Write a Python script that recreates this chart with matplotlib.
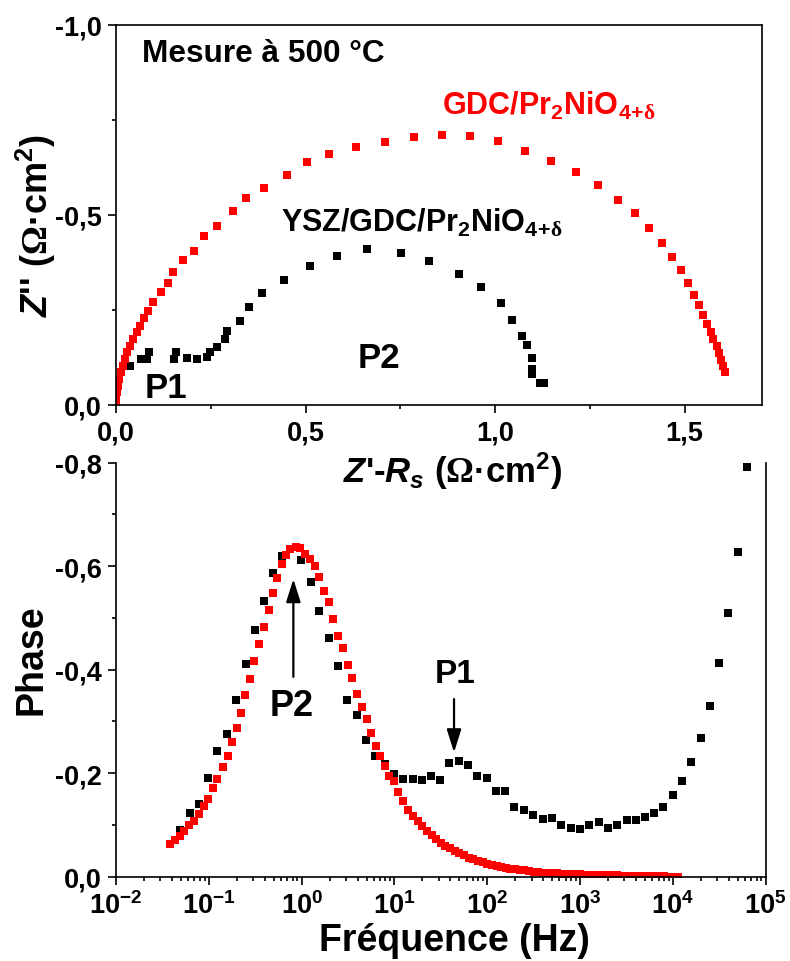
import matplotlib
matplotlib.use('Agg')
import matplotlib.pyplot as plt
import numpy as np
from matplotlib.ticker import FuncFormatter, MultipleLocator, FixedLocator, LogFormatterMathtext, NullFormatter

plt.rcParams['font.family'] = ['Liberation Sans', 'DejaVu Sans']
plt.rcParams['font.weight'] = 'bold'
plt.rcParams['mathtext.fontset'] = 'custom'
plt.rcParams['mathtext.rm'] = 'Liberation Serif'
plt.rcParams['mathtext.it'] = 'Liberation Sans:italic:bold'
plt.rcParams['mathtext.bf'] = 'Liberation Sans:bold'
plt.rcParams['mathtext.sf'] = 'Liberation Sans:bold'
plt.rcParams['mathtext.default'] = 'bf'
plt.rcParams['axes.unicode_minus'] = False

# ---------------- Nyquist data (Ohm.cm2), -Z'' stored as positive ----------------
gdc_zre = [0.000, 0.000, 0.002, 0.004, 0.008, 0.012, 0.018, 0.024, 0.030, 0.037, 0.046, 0.055,
           0.063, 0.075, 0.085, 0.098, 0.119, 0.136, 0.151, 0.176, 0.206, 0.232, 0.266, 0.308,
           0.343, 0.391, 0.450, 0.503, 0.562, 0.632, 0.709, 0.786, 0.860, 0.934, 1.007, 1.078,
           1.147, 1.213, 1.272, 1.324, 1.369, 1.406, 1.439, 1.466, 1.490, 1.509, 1.524, 1.538,
           1.549, 1.559, 1.569, 1.575, 1.584, 1.591, 1.597, 1.602, 1.606]
gdc_mzim = [0.005, 0.016, 0.033, 0.051, 0.068, 0.086, 0.103, 0.121, 0.139, 0.156, 0.174, 0.191,
            0.209, 0.229, 0.248, 0.272, 0.298, 0.321, 0.349, 0.382, 0.406, 0.444, 0.472, 0.510,
            0.544, 0.570, 0.606, 0.639, 0.661, 0.680, 0.693, 0.706, 0.711, 0.707, 0.694, 0.669,
            0.643, 0.612, 0.579, 0.539, 0.504, 0.466, 0.426, 0.389, 0.355, 0.321, 0.289, 0.263,
            0.237, 0.213, 0.191, 0.174, 0.156, 0.137, 0.119, 0.103, 0.086]

ysz_zre = [0.037, 0.065, 0.082, 0.087, 0.153, 0.158, 0.186, 0.213, 0.239, 0.248, 0.266, 0.288,
           0.292, 0.327, 0.352, 0.384, 0.444, 0.513, 0.584, 0.661, 0.751, 0.826, 0.905, 0.963,
           1.015, 1.044, 1.070, 1.083, 1.096, 1.096, 1.096, 1.118, 1.129]
ysz_mzim = [0.103, 0.121, 0.121, 0.139, 0.121, 0.139, 0.123, 0.121, 0.126, 0.139, 0.152, 0.174,
            0.196, 0.222, 0.259, 0.294, 0.329, 0.367, 0.393, 0.411, 0.400, 0.380, 0.345, 0.311,
            0.268, 0.224, 0.181, 0.158, 0.124, 0.095, 0.082, 0.057, 0.057]

# ---------------- Phase vs frequency (log10 of Hz) ----------------
gdc_logf = [-1.418, -1.364, -1.310, -1.264, -1.210, -1.156, -1.106, -1.052, -1.005, -0.958,
            -0.908, -0.850, -0.796, -0.747, -0.700, -0.653, -0.610, -0.560, -0.510, -0.460,
            -0.410, -0.355, -0.305, -0.260, -0.214, -0.168, -0.120, -0.064, -0.017, 0.037,
            0.091, 0.144, 0.191, 0.241, 0.298, 0.342, 0.396, 0.449, 0.497, 0.546,
            0.600, 0.651, 0.701, 0.745, 0.798, 0.845, 0.899, 0.945, 0.999, 1.042,
            1.096, 1.150, 1.20, 1.25, 1.30, 1.35, 1.40, 1.45, 1.50, 1.55,
            1.60, 1.65, 1.70, 1.75, 1.80, 1.85, 1.90, 1.95, 2.00, 2.05,
            2.10, 2.15, 2.20, 2.25, 2.30, 2.35, 2.40, 2.45, 2.50, 2.55,
            2.60, 2.65, 2.70, 2.75, 2.80, 2.85, 2.90, 2.95, 3.00, 3.05,
            3.10, 3.15, 3.20, 3.25, 3.30, 3.35, 3.40, 3.45, 3.50, 3.55,
            3.60, 3.65, 3.70, 3.75, 3.80, 3.85, 3.90, 3.95, 4.00, 4.05]
gdc_phase = [-0.063, -0.070, -0.079, -0.088, -0.099, -0.108, -0.122, -0.136, -0.151, -0.171,
             -0.189, -0.211, -0.234, -0.260, -0.287, -0.316, -0.350, -0.382, -0.416, -0.450,
             -0.483, -0.516, -0.548, -0.577, -0.604, -0.622, -0.633, -0.637, -0.634, -0.624,
             -0.614, -0.601, -0.579, -0.551, -0.530, -0.498, -0.465, -0.441, -0.408, -0.383,
             -0.352, -0.327, -0.305, -0.278, -0.253, -0.234, -0.213, -0.194, -0.184, -0.163,
             -0.147, -0.128, -0.117, -0.107, -0.097, -0.088, -0.080, -0.073, -0.066, -0.060,
             -0.055, -0.050, -0.045, -0.041, -0.037, -0.034, -0.031, -0.028, -0.025, -0.023,
             -0.021, -0.019, -0.017, -0.015, -0.014, -0.013, -0.012, -0.011, -0.010, -0.009,
             -0.008, -0.0075, -0.007, -0.0065, -0.006, -0.0055, -0.005, -0.0047, -0.0044, -0.0041,
             -0.0038, -0.0035, -0.0033, -0.0031, -0.0029, -0.0027, -0.0025, -0.0023, -0.0021, -0.0019,
             -0.0017, -0.0015, -0.0013, -0.0011, -0.0009, -0.0007, -0.0005, -0.0003, -0.0002, -0.0001]

ysz_logf = [-1.310, -1.205, -1.108, -1.005, -0.908, -0.807, -0.707, -0.602, -0.502, -0.405,
            -0.305, -0.211, -0.006, 0.096, 0.191, 0.295, 0.389, 0.492, 0.594, 0.694,
            0.795, 0.899, 0.999, 1.096, 1.197, 1.294, 1.394, 1.491, 1.592, 1.696,
            1.796, 1.893, 1.995, 2.095, 2.195, 2.292, 2.397, 2.497, 2.598, 2.698,
            2.798, 2.900, 3.000, 3.100, 3.202, 3.302, 3.402, 3.503, 3.603, 3.700,
            3.801, 3.898, 3.999, 4.099, 4.199, 4.301, 4.401, 4.498, 4.598, 4.699, 4.803]
ysz_phase = [-0.090, -0.123, -0.140, -0.190, -0.242, -0.276, -0.342, -0.411, -0.477, -0.532,
             -0.587, -0.620, -0.611, -0.569, -0.514, -0.461, -0.406, -0.342, -0.312, -0.264,
             -0.234, -0.218, -0.198, -0.189, -0.189, -0.187, -0.195, -0.187, -0.220, -0.224,
             -0.216, -0.195, -0.190, -0.165, -0.165, -0.135, -0.128, -0.119, -0.111, -0.113,
             -0.100, -0.094, -0.092, -0.100, -0.106, -0.094, -0.100, -0.110, -0.110, -0.116,
             -0.123, -0.135, -0.157, -0.185, -0.221, -0.267, -0.329, -0.412, -0.509, -0.628, -0.791]

freq_decades = [1e-2, 1e-1, 1e0, 1e1, 1e2, 1e3, 1e4, 1e5]

W, H = 790, 962
fig = plt.figure(figsize=(W / 100, H / 100), dpi=100)


def fx(px):
    return px / W


def fy(py):
    return 1 - py / H


def comma(v, pos):
    s = f"{v:.1f}"
    if s == "-0.0":
        s = "0.0"
    return s.replace('.', ',')


MS = 5.8
LW_SP = 1.2

# ---------------- Top: Nyquist ----------------
ax1 = fig.add_axes([fx(116), fy(406), fx(762) - fx(116), fy(26) - fy(406)])
ax1.plot(ysz_zre, [-v for v in ysz_mzim], 's', color='black', ms=MS, mew=0, ls='none')
ax1.plot(gdc_zre, [-v for v in gdc_mzim], 's', color='red', ms=MS, mew=0, ls='none')
ax1.set_xlim(0, 1.704)
ax1.set_ylim(0, -1.0)
ax1.xaxis.set_major_locator(MultipleLocator(0.5))
ax1.xaxis.set_minor_locator(MultipleLocator(0.25))
ax1.yaxis.set_major_locator(MultipleLocator(0.5))
ax1.yaxis.set_minor_locator(MultipleLocator(0.25))
ax1.xaxis.set_major_formatter(FuncFormatter(comma))
ax1.yaxis.set_major_formatter(FuncFormatter(comma))

# ---------------- Bottom: Phase ----------------
ax2 = fig.add_axes([fx(116), fy(877.7), fx(765.7) - fx(116), fy(463.5) - fy(877.7)])
ax2.plot([10 ** v for v in ysz_logf], ysz_phase, 's', color='black', ms=MS, mew=0, ls='none')
ax2.plot([10 ** v for v in gdc_logf], gdc_phase, 's', color='red', ms=MS, mew=0, ls='none')
ax2.set_xscale('log')
ax2.set_xlim(1e-2, 1e5)
ax2.set_ylim(0, -0.8)
minor_f = [d * k for d in freq_decades[:-1] for k in range(2, 10)]
ax2.xaxis.set_major_locator(FixedLocator(freq_decades))
ax2.xaxis.set_minor_locator(FixedLocator(minor_f))
ax2.xaxis.set_major_formatter(LogFormatterMathtext())
ax2.xaxis.set_minor_formatter(NullFormatter())
ax2.yaxis.set_major_locator(MultipleLocator(0.2))
ax2.yaxis.set_minor_locator(MultipleLocator(0.1))
ax2.yaxis.set_major_formatter(FuncFormatter(comma))
ax2.spines['top'].set_visible(False)

for ax in (ax1, ax2):
    for sp in ax.spines.values():
        sp.set_linewidth(LW_SP)
    ax.tick_params(which='major', direction='out', length=5.5, width=LW_SP, labelsize=19.5, pad=5,
                   top=False, right=False)
    ax.tick_params(which='minor', direction='out', length=3, width=LW_SP, top=False, right=False)
    for lab in ax.get_xticklabels() + ax.get_yticklabels():
        lab.set_fontweight('bold')

# arrows
ax2.annotate('', xy=(10 ** -0.089, -0.575), xytext=(10 ** -0.089, -0.386),
             arrowprops=dict(arrowstyle='-|>,head_length=0.7,head_width=0.22', color='black',
                             lw=1.6, mutation_scale=20, shrinkA=0, shrinkB=0))
ax2.annotate('', xy=(10 ** 1.642, -0.240), xytext=(10 ** 1.642, -0.343),
             arrowprops=dict(arrowstyle='-|>,head_length=0.7,head_width=0.22', color='black',
                             lw=1.6, mutation_scale=20, shrinkA=0, shrinkB=0))

# ---------------- Texts ----------------
fig.text(fx(142), fy(61.7), "Mesure à 500 °C", fontsize=22.8, ha='left', va='baseline')
fig.text(fx(442), fy(115), r"GDC/Pr$_2$NiO$_{4\!+\!\mathrm{\delta}}$", color='red', fontsize=22,
         ha='left', va='baseline')
fig.text(fx(281), fy(232), r"YSZ/GDC/Pr$_2$NiO$_{4\!+\!\mathrm{\delta}}$", color='black', fontsize=22,
         ha='left', va='baseline')
fig.text(fx(145), fy(398), "P1", fontsize=25, ha='left', va='baseline')
fig.text(fx(358), fy(368), "P2", fontsize=25, ha='left', va='baseline')
fig.text(fx(270), fy(716), "P2", fontsize=26, ha='left', va='baseline')
fig.text(fx(435), fy(683), "P1", fontsize=24, ha='left', va='baseline')

fig.text(fx(452), fy(483), r"$\mathit{Z}$'-$\mathit{R_s}$ ($\mathrm{\Omega}$·cm$^2$)",
         fontsize=25, ha='center', va='baseline')
fig.text(fx(36), fy(226), r"$\mathit{Z}$'' ($\mathrm{\Omega}$·cm$^2$)", fontsize=26,
         rotation=90, ha='center', va='center')
fig.text(fx(31), fy(660), "Phase", fontsize=27, rotation=90, ha='center', va='center')
fig.text(fx(454), fy(951), "Fréquence (Hz)", fontsize=27, ha='center', va='baseline')

fig.savefig('out.png', dpi=100)
